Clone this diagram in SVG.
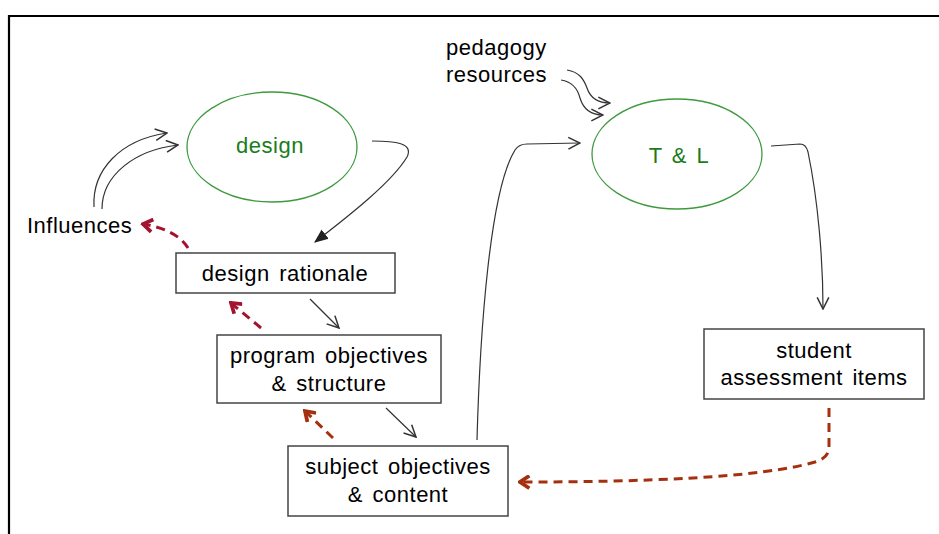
<svg xmlns="http://www.w3.org/2000/svg" width="939" height="534" viewBox="0 0 939 534">
<defs>
<style>
text{font-family:"Liberation Sans",Arial,sans-serif;font-size:22px;fill:#000;letter-spacing:0.5px;word-spacing:3px}
.g{fill:#1a7d1a}
.box{fill:#fff;stroke:#444;stroke-width:1.5}
.ell{fill:#fff;stroke:#3f9a3f;stroke-width:1.3}
.c{fill:none;stroke:#333;stroke-width:1.2}
.d1{fill:none;stroke:#a3122f;stroke-width:3;stroke-dasharray:9 6}
.d2{fill:none;stroke:#a5300f;stroke-width:3;stroke-dasharray:9 6}
</style>
<marker id="open" markerUnits="userSpaceOnUse" markerWidth="14" markerHeight="14" viewBox="0 0 12 12" refX="11" refY="6" orient="auto">
<path d="M1,1 L11,6 L1,11" fill="none" stroke="#333" stroke-width="1.3"/>
</marker>
<marker id="solid" markerUnits="userSpaceOnUse" markerWidth="14" markerHeight="14" viewBox="0 0 12 12" refX="11" refY="6" orient="auto">
<path d="M0,1 L12,6 L0,11 Z" fill="#222"/>
</marker>
<marker id="r1" markerUnits="userSpaceOnUse" markerWidth="15" markerHeight="15" viewBox="0 0 12 12" refX="10" refY="6" orient="auto">
<path d="M2.5,1 L10,6 L2.5,11" fill="none" stroke="#a3122f" stroke-width="3"/>
</marker>
<marker id="r2" markerUnits="userSpaceOnUse" markerWidth="15" markerHeight="15" viewBox="0 0 12 12" refX="10" refY="6" orient="auto">
<path d="M2.5,1 L10,6 L2.5,11" fill="none" stroke="#a5300f" stroke-width="3"/>
</marker>
</defs>
<rect width="939" height="534" fill="#fff"/>
<path d="M9,534 L9,16 L939,16" fill="none" stroke="#000" stroke-width="2.2"/>

<g id="connectors">
<path class="c" d="M94,207 C 92,170 120,140 167,133" marker-end="url(#open)"/>
<path class="c" d="M102,209 C 102,175 135,150 178,145" marker-end="url(#open)"/>
<path class="c" d="M372,141 C 395,141 414,143 407,157 C 392,182 350,215 315,242" marker-end="url(#solid)"/>
<path class="c" d="M310,299 L339,328" marker-end="url(#open)"/>
<path class="c" d="M386,408 L416,437" marker-end="url(#open)"/>
<path class="c" d="M477,440 C 480,330 490,190 515,150 Q 519,144 527,144 L580,143" marker-end="url(#open)"/>
<path class="c" d="M771,146 L800,144 Q 806,144 808,152 C 818,200 823,260 823,309" marker-end="url(#open)"/>
<path class="c" d="M567,70 C 580,72 584,80 587,88 C 590,97 597,103 610,103" marker-end="url(#open)"/>
<path class="c" d="M561,80 C 573,82 578,90 580,98 C 583,108 590,115 603,115" marker-end="url(#open)"/>
<path class="d1" d="M188,248 C 180,235 165,228 143,224" marker-end="url(#r1)"/>
<path class="d1" d="M261,328 L231,303" marker-end="url(#r1)"/>
<path class="d2" d="M333,438 L305,411" marker-end="url(#r2)"/>
<path class="d2" d="M829,408 L829,447 Q 829,458 815,462 C 760,478 640,482 520,482" marker-end="url(#r2)"/>
</g>

<g id="design">
<ellipse class="ell" cx="272" cy="147" rx="85" ry="55"/>
<text class="g" x="270" y="153" text-anchor="middle">design</text>
</g>
<g id="tl">
<ellipse class="ell" cx="677" cy="154" rx="85" ry="55"/>
<text class="g" x="679" y="163" text-anchor="middle">T &amp; L</text>
</g>
<g id="influences">
<text x="27" y="233">Influences</text>
</g>
<g id="pedagogy">
<text x="446" y="55">pedagogy</text>
<text x="446" y="82">resources</text>
</g>
<g id="rationale">
<rect class="box" x="176" y="253" width="219" height="40"/>
<text x="285" y="281" text-anchor="middle">design rationale</text>
</g>
<g id="program">
<rect class="box" x="217" y="335" width="224" height="68"/>
<text x="329" y="363" text-anchor="middle">program objectives</text>
<text x="329" y="391" text-anchor="middle">&amp; structure</text>
</g>
<g id="subject">
<rect class="box" x="288" y="446" width="220" height="70"/>
<text x="398" y="474" text-anchor="middle">subject objectives</text>
<text x="398" y="502" text-anchor="middle">&amp; content</text>
</g>
<g id="student">
<rect class="box" x="704" y="329" width="220" height="70"/>
<text x="814" y="358" text-anchor="middle">student</text>
<text x="814" y="385" text-anchor="middle">assessment items</text>
</g>
</svg>
